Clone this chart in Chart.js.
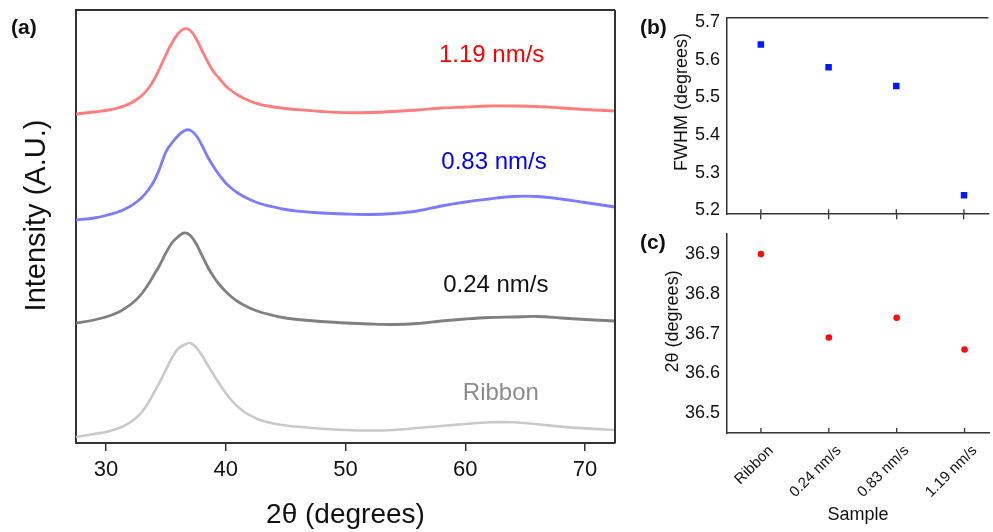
<!DOCTYPE html>
<html>
<head>
<meta charset="utf-8">
<script src="https://cdn.jsdelivr.net/npm/chart.js@4.4.1/dist/chart.umd.min.js"></script>
<style>
  body { margin: 0; background: #fff; width: 993px; height: 532px; position: relative; overflow: hidden;
         font-family: 'Liberation Sans', Arial, sans-serif; }
  canvas { position: absolute; }
  .tag { position: absolute; font-weight: bold; font-size: 21px; line-height: 21px; color: #111; }
</style>
</head>
<body>
<canvas id="xrd" width="630" height="532" style="left:0;top:0"></canvas>
<canvas id="fwhm" width="363" height="232" style="left:630px;top:0"></canvas>
<canvas id="peak" width="363" height="316" style="left:630px;top:216px"></canvas>
<div class="tag" style="left:11px;top:16px">(a)</div>
<div class="tag" style="left:640px;top:16px">(b)</div>
<div class="tag" style="left:640px;top:231px">(c)</div>
<script>
// XRD patterns, offset vertically (A.U.)
const twoTheta = [27.5, 29, 30, 31, 31.5, 32, 32.5, 33, 33.5, 34, 34.5, 35, 35.5, 36, 36.5, 37, 37.5, 38,
                  38.5, 39, 39.5, 40, 40.5, 41, 41.5, 42, 42.5, 43, 43.5, 44, 45, 46, 48, 50,
                  52, 54, 56, 58, 60, 62, 64, 66, 68, 70, 72.5];
const rate119 = [329, 331, 332.5, 335, 337, 339.5, 343, 347.5, 354, 363, 375, 388, 400, 409, 414, 413, 405, 393,
                 381, 371, 364, 357, 352, 348, 344.8, 342, 339.8, 338.2, 337, 336, 334.5, 333.3, 331.5, 330.3,
                 330.5, 331.5, 333, 335, 336, 337, 337, 336.5, 335, 333.5, 332];
const rate083 = [223, 225, 227.5, 231, 233.5, 236.5, 240.5, 245.5, 252.5, 261.5, 275, 291, 300, 307, 312, 313, 308, 298,
                 286, 276, 267.3, 260, 254.5, 250, 246.5, 243.5, 241, 239, 237.3, 236, 233.5, 231.8, 230, 229,
                 228.5, 229.5, 232, 237, 241, 244, 246.5, 246.5, 244, 240.5, 236];
const rate024 = [120, 123, 126, 130.5, 134, 138, 143, 149.5, 158, 168, 178, 190, 200, 206, 210, 208, 200, 188,
                 176, 166, 158, 151.5, 146, 141.5, 138, 135, 132.5, 130.5, 129, 127.5, 125, 123.5, 121.5, 120,
                 119, 118.5, 119.5, 122, 124, 125.5, 126, 126.5, 125, 123.5, 122];
const ribbon  = [6, 9, 11, 14.5, 17, 20.5, 25, 31, 39.5, 50, 61, 73, 85, 94, 98, 100, 96, 88,
                 78, 68, 58.7, 50, 42.5, 36.5, 31.5, 27.8, 24.8, 22.5, 20.8, 19.5, 17.5, 16.2, 14.3, 13,
                 12.5, 13, 15, 17, 19, 20.7, 20.7, 18.8, 16.4, 14.6, 13];
const thetaTicks = [30, 40, 50, 60, 70];

// fitted peak parameters per sample
const samples = ['Ribbon', '0.24 nm/s', '0.83 nm/s', '1.19 nm/s'];
const fwhm = [5.64, 5.58, 5.53, 5.24];
const peakPos = [36.9, 36.69, 36.74, 36.66];
const fwhmTicks = [5.2, 5.3, 5.4, 5.5, 5.6, 5.7];
const peakTicks = [36.5, 36.6, 36.7, 36.8, 36.9];

const FONT = "'Liberation Sans', Arial, sans-serif";
const AXIS = '#333';
Chart.defaults.font.family = FONT;
Chart.defaults.color = '#111';

// closes the plot box on the requested sides
const frame = {
  id: 'frame',
  afterDraw(chart, args, opts) {
    const { ctx, chartArea: a } = chart;
    ctx.save();
    ctx.strokeStyle = AXIS;
    ctx.lineWidth = opts.width || 1.5;
    ctx.beginPath();
    if (opts.top) { ctx.moveTo(a.left - 1, a.top); ctx.lineTo(a.right, a.top); }
    if (opts.right) { ctx.moveTo(a.right, a.top); ctx.lineTo(a.right, a.bottom); }
    ctx.stroke();
    ctx.restore();
  }
};

// tick marks pointing into the plot
const innerTicks = {
  id: 'innerTicks',
  afterDraw(chart, args, opts) {
    if (!opts.length) return;
    const { ctx, chartArea: a, scales: { x } } = chart;
    ctx.save();
    ctx.strokeStyle = AXIS;
    ctx.lineWidth = 1.3;
    ctx.beginPath();
    x.ticks.forEach(t => {
      const px = x.getPixelForValue(t.value);
      ctx.moveTo(px, a.bottom);
      ctx.lineTo(px, a.bottom - opts.length);
    });
    ctx.stroke();
    ctx.restore();
  }
};

// vertical axis title, nudged along the axis
const sideTitle = {
  id: 'sideTitle',
  afterDraw(chart, args, opts) {
    if (!opts.text) return;
    const { ctx, chartArea: a } = chart;
    ctx.save();
    ctx.translate(opts.x, (a.top + a.bottom) / 2 + opts.shift);
    ctx.rotate(-Math.PI / 2);
    ctx.font = opts.font;
    ctx.fillStyle = '#111';
    ctx.textAlign = 'center';
    ctx.textBaseline = 'middle';
    ctx.fillText(opts.text, 0, 0);
    ctx.restore();
  }
};

// sample names written next to each pattern
const curveTags = {
  id: 'curveTags',
  afterDatasetsDraw(chart, args, opts) {
    if (!opts.items) return;
    const { ctx, scales: { x, y } } = chart;
    ctx.save();
    ctx.font = opts.font;
    ctx.textAlign = 'center';
    ctx.textBaseline = 'middle';
    opts.items.forEach(t => {
      ctx.fillStyle = t.color;
      ctx.fillText(t.text, x.getPixelForValue(t.x), y.getPixelForValue(t.y));
    });
    ctx.restore();
  }
};

Chart.register(frame, innerTicks, sideTitle, curveTags);

function pattern(values, color, width) {
  return {
    data: twoTheta.map((t, i) => ({ x: t, y: values[i] })),
    borderColor: color,
    borderWidth: width,
    pointRadius: 0,
    tension: 0.35,
    fill: false
  };
}

// (a) XRD patterns
new Chart(document.getElementById('xrd'), {
  type: 'line',
  data: {
    datasets: [
      pattern(ribbon, '#c9c9c9', 2.6),
      pattern(rate024, '#808080', 2.8),
      pattern(rate083, '#7b7bff', 2.8),
      pattern(rate119, '#ff7d7d', 2.8)
    ]
  },
  options: {
    responsive: false,
    animation: false,
    layout: { padding: { top: 10, right: 15 } },
    plugins: {
      legend: { display: false },
      tooltip: { enabled: false },
      frame: { top: true, right: true, width: 2 },
      sideTitle: { text: 'Intensity (A.U.)', x: 37, shift: -11, font: '29px ' + FONT },
      curveTags: {
        font: '24px ' + FONT,
        items: [
          { text: '1.19 nm/s', color: '#ff0000', x: 62.2, y: 388 },
          { text: '0.83 nm/s', color: '#0000ff', x: 62.4, y: 280.5 },
          { text: '0.24 nm/s', color: '#111111', x: 62.55, y: 157.5 },
          { text: 'Ribbon', color: '#8c8c8c', x: 62.97, y: 49.7 }
        ]
      }
    },
    scales: {
      x: {
        type: 'linear',
        min: 27.5,
        max: 72.5,
        afterBuildTicks: s => { s.ticks = thetaTicks.map(v => ({ value: v })); },
        afterFit: s => { s.height = 89; },
        grid: { drawOnChartArea: false, tickLength: 8, color: AXIS, lineWidth: 1.5 },
        border: { color: AXIS, width: 2 },
        ticks: { font: { size: 22 }, padding: 6, color: '#111' },
        title: { display: true, text: '2θ (degrees)', font: { size: 28 }, padding: { bottom: 0, top: 0 }, color: '#111' }
      },
      y: {
        min: 0,
        max: 433,
        afterFit: s => { s.width = 76; },
        grid: { display: false, drawTicks: false },
        border: { color: AXIS, width: 2 },
        ticks: { display: false }
      }
    }
  }
});

// (b) FWHM per sample
new Chart(document.getElementById('fwhm'), {
  type: 'scatter',
  data: {
    datasets: [{
      data: fwhm.map((v, i) => ({ x: i, y: v })),
      pointStyle: 'rect',
      pointRadius: 4.6,
      backgroundColor: '#0019ff',
      borderColor: '#0019ff',
      borderWidth: 0
    }]
  },
  options: {
    responsive: false,
    animation: false,
    layout: { padding: { top: 11 } },
    plugins: {
      legend: { display: false },
      tooltip: { enabled: false },
      frame: { top: true },
      innerTicks: { length: 5 },
      sideTitle: { text: 'FWHM (degrees)', x: 52, shift: -14, font: '18px ' + FONT }
    },
    scales: {
      x: {
        type: 'linear',
        min: -0.5,
        max: 3.36,
        afterBuildTicks: s => { s.ticks = samples.map((n, i) => ({ value: i })); },
        afterFit: s => { s.height = 11; },
        grid: { drawOnChartArea: false, tickLength: 5, color: AXIS, lineWidth: 1.3 },
        border: { color: AXIS, width: 1.5 },
        ticks: { display: false }
      },
      y: {
        min: 5.19,
        max: 5.711,
        afterBuildTicks: s => { s.ticks = fwhmTicks.map(v => ({ value: v })); },
        afterFit: s => { s.width = 97; },
        grid: { display: false, drawTicks: false },
        border: { color: AXIS, width: 1.5 },
        ticks: { font: { size: 18 }, padding: 7, color: '#111', callback: v => v.toFixed(1) }
      }
    }
  }
});

// (c) peak position per sample
new Chart(document.getElementById('peak'), {
  type: 'scatter',
  data: {
    datasets: [{
      data: peakPos.map((v, i) => ({ x: i, y: v })),
      pointStyle: 'circle',
      pointRadius: 3.3,
      backgroundColor: '#ff0a0a',
      borderColor: '#ff0a0a',
      borderWidth: 0
    }]
  },
  options: {
    responsive: false,
    animation: false,
    layout: { padding: { top: 5 } },
    plugins: {
      legend: { display: false },
      tooltip: { enabled: false },
      innerTicks: { length: 5 },
      sideTitle: { text: '2θ (degrees)', x: 43, shift: -12, font: '18px ' + FONT }
    },
    scales: {
      x: {
        type: 'linear',
        min: -0.5,
        max: 3.36,
        afterBuildTicks: s => { s.ticks = samples.map((n, i) => ({ value: i })); },
        afterFit: s => { s.height = 99; },
        grid: { drawOnChartArea: false, drawTicks: false, color: AXIS },
        border: { color: AXIS, width: 1.5 },
        ticks: {
          font: { size: 15 }, padding: 9, labelOffset: 10, color: '#111', autoSkip: false,
          minRotation: 45, maxRotation: 45,
          callback: v => samples[v]
        },
        title: { display: true, text: 'Sample', font: { size: 18 }, padding: { top: 0, bottom: 6 }, color: '#111' }
      },
      y: {
        min: 36.45,
        max: 36.951,
        afterBuildTicks: s => { s.ticks = peakTicks.map(v => ({ value: v })); },
        afterFit: s => { s.width = 97; },
        grid: { display: false, drawTicks: false },
        border: { color: AXIS, width: 1.5 },
        ticks: { font: { size: 18 }, padding: 7, color: '#111', callback: v => v.toFixed(1) }
      }
    }
  }
});
</script>
</body>
</html>
